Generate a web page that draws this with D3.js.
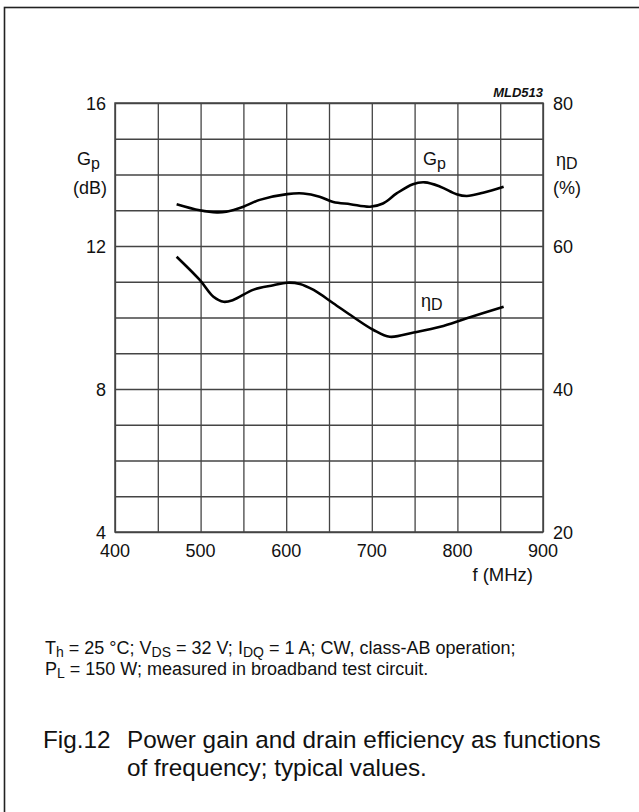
<!DOCTYPE html>
<html><head><meta charset="utf-8">
<script src="https://cdn.jsdelivr.net/npm/d3@7"></script>
<style>
html,body{margin:0;padding:0;background:#fff;}
text{font-family:"Liberation Sans",Arial,Helvetica,sans-serif;fill:#111;}
</style></head>
<body>
<svg id="c" width="639" height="812"></svg>
<script>
// ---- data ----
const gpFreq = [472, 499, 519, 530, 550, 569, 601, 620, 639, 655, 675, 698, 713, 729, 748, 762, 780, 799, 811, 830, 854];
const gpValues = [13.17, 13.0, 12.94, 12.96, 13.1, 13.29, 13.45, 13.47, 13.38, 13.23, 13.17, 13.1, 13.19, 13.47, 13.73, 13.78, 13.66, 13.45, 13.4, 13.49, 13.66];
const etaFreq = [472, 499, 515, 527, 538, 562, 585, 601, 616, 632, 655, 678, 702, 721, 749, 780, 811, 854];
const etaValues = [58.5, 55.25, 52.9, 52.2, 52.45, 53.9, 54.5, 54.87, 54.7, 53.85, 52.0, 50.1, 48.25, 47.3, 47.9, 48.7, 49.9, 51.5];
const xTickLabels = [400, 500, 600, 700, 800, 900];
const leftTickLabels = [4, 8, 12, 16];
const rightTickLabels = [20, 40, 60, 80];

// ---- layout ----
const L = 115, R = 543, T = 103, B = 532;
const svg = d3.select("#c");

// frame
svg.append("rect").attr("x", 4.5).attr("y", 7.5).attr("width", 700).attr("height", 900)
  .attr("fill", "none").attr("stroke", "#222").attr("stroke-width", 1.6);

const x = d3.scaleLinear().domain([400, 900]).range([L, R]);
const yL = d3.scaleLinear().domain([4, 16]).range([B, T]);
const yR = d3.scaleLinear().domain([20, 80]).range([B, T]);

// grid
const gridX = d3.axisBottom(x).tickValues(d3.range(400, 901, 50)).tickSize(-(B - T)).tickFormat("");
const gridY = d3.axisLeft(yL).tickValues(d3.range(4, 16.01, 1)).tickSize(-(R - L)).tickFormat("");
const gx = svg.append("g").attr("transform", `translate(0,${B})`).call(gridX);
const gy = svg.append("g").attr("transform", `translate(${L},0)`).call(gridY);
[gx, gy].forEach(g => {
  g.select(".domain").remove();
  g.selectAll("line").attr("stroke", "#444").attr("stroke-width", 1.3);
});
svg.append("rect").attr("x", L).attr("y", T).attr("width", R - L).attr("height", B - T)
  .attr("fill", "none").attr("stroke", "#444").attr("stroke-width", 1.5);

// tick labels
const fs = 18;
svg.append("g").selectAll("text").data(xTickLabels).join("text")
  .attr("x", d => x(d)).attr("y", B + 25).attr("text-anchor", "middle")
  .attr("font-size", fs).text(d => d);
svg.append("g").selectAll("text").data(leftTickLabels).join("text")
  .attr("x", L - 9).attr("y", d => yL(d) + 6.5).attr("text-anchor", "end")
  .attr("font-size", fs).text(d => d);
svg.append("g").selectAll("text").data(rightTickLabels).join("text")
  .attr("x", R + 10).attr("y", d => yR(d) + 6.5).attr("text-anchor", "start")
  .attr("font-size", fs).text(d => d);

// axis titles
function sub(t, main, s, size, subSize, dy) {
  t.append("tspan").text(main).attr("font-size", size);
  t.append("tspan").text(s).attr("font-size", subSize).attr("dy", dy);
}
let t = svg.append("text").attr("x", 77).attr("y", 165);
sub(t, "G", "p", 18, 16, 4);
svg.append("text").attr("x", 107).attr("y", 194).attr("text-anchor", "end").attr("font-size", fs).text("(dB)");
t = svg.append("text").attr("x", 556).attr("y", 166);
sub(t, "η", "D", 18, 16, 3);
svg.append("text").attr("x", 553).attr("y", 194).attr("font-size", fs).text("(%)");
svg.append("text").attr("x", 543).attr("y", 97).attr("text-anchor", "end")
  .attr("font-size", 13).attr("font-style", "italic").attr("font-weight", "bold").text("MLD513");
svg.append("text").attr("x", 533).attr("y", 581).attr("text-anchor", "end").attr("font-size", 18.5).text("f (MHz)");

// curves
const line = d3.line().curve(d3.curveCatmullRom.alpha(0.5));
svg.append("path").datum(gpFreq.map((f, i) => [x(f), yL(gpValues[i])]))
  .attr("d", line).attr("fill", "none").attr("stroke", "#000").attr("stroke-width", 2.6);
svg.append("path").datum(etaFreq.map((f, i) => [x(f), yR(etaValues[i])]))
  .attr("d", line).attr("fill", "none").attr("stroke", "#000").attr("stroke-width", 2.6);

// curve labels
t = svg.append("text").attr("x", 423).attr("y", 165);
sub(t, "G", "p", 18, 16, 4);
t = svg.append("text").attr("x", 421).attr("y", 307);
sub(t, "η", "D", 18, 16, 3);

// footnote
function footLine(y, parts) {
  const el = svg.append("text").attr("x", 45).attr("y", y).attr("font-size", 18);
  let down = false;
  parts.forEach(([s, isSub]) => {
    const sp = el.append("tspan").text(s);
    if (isSub) { sp.attr("font-size", 14).attr("dy", 2.5); down = true; }
    else if (down) { sp.attr("dy", -2.5); down = false; }
  });
}
footLine(654, [["T", 0], ["h", 1], [" = 25 °C; V", 0], ["DS", 1], [" = 32 V; I", 0], ["DQ", 1], [" = 1 A; CW, class-AB operation;", 0]]);
footLine(675, [["P", 0], ["L", 1], [" = 150 W; measured in broadband test circuit.", 0]]);

// caption
const capFs = 24.3;
svg.append("text").attr("x", 43).attr("y", 748).attr("font-size", capFs).text("Fig.12");
svg.append("text").attr("x", 127).attr("y", 748).attr("font-size", capFs).text("Power gain and drain efficiency as functions");
svg.append("text").attr("x", 127).attr("y", 776).attr("font-size", capFs).text("of frequency; typical values.");
</script>
</body></html>
